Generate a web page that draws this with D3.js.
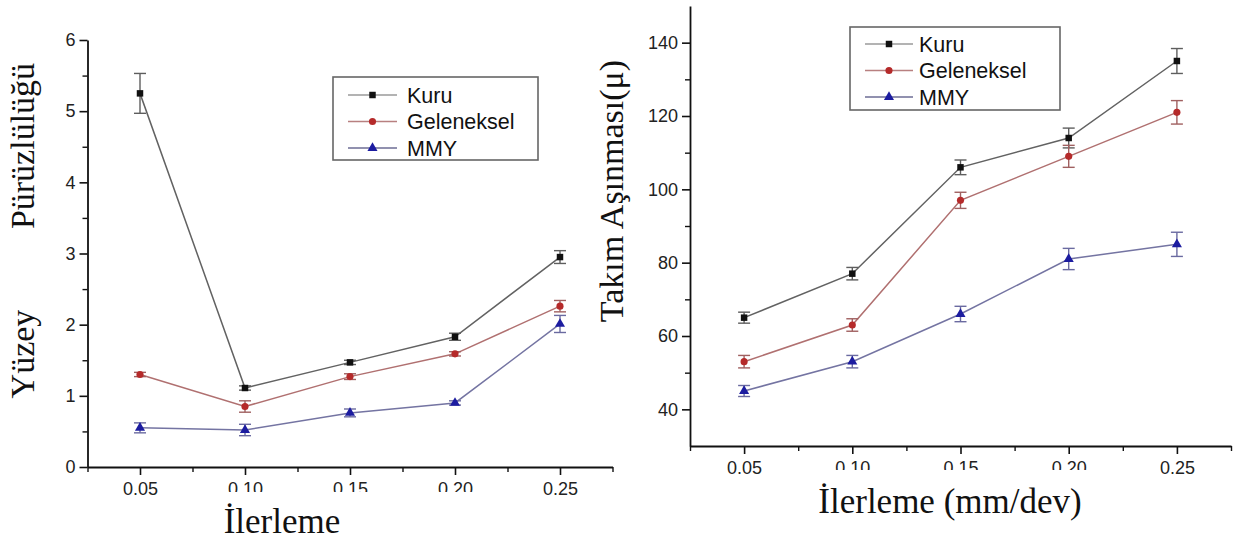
<!DOCTYPE html>
<html><head><meta charset="utf-8">
<script src="https://cdn.jsdelivr.net/npm/d3@7"></script>
<style>
html,body{margin:0;padding:0;background:#fff;}
svg{display:block;}
</style></head>
<body>
<svg id="c" width="1233" height="540"></svg>
<script>
// ---------- data ----------
const feed = [0.05, 0.10, 0.15, 0.20, 0.25];
const xTickLabels = ["0.05", "0.10", "0.15", "0.20", "0.25"];
const seriesNames = ["Kuru", "Geleneksel", "MMY"];

const roughKuru    = [5.25, 1.11, 1.47, 1.83, 2.95];
const roughKuruErr = [0.28, 0.03, 0.03, 0.05, 0.09];
const roughGel     = [1.30, 0.85, 1.27, 1.59, 2.26];
const roughGelErr  = [0.03, 0.08, 0.04, 0.03, 0.08];
const roughMMY     = [0.55, 0.52, 0.76, 0.90, 2.01];
const roughMMYErr  = [0.07, 0.08, 0.055, 0.03, 0.12];
const roughTicks   = [0, 1, 2, 3, 4, 5, 6];

const wearKuru    = [65, 77, 106, 114, 135];
const wearKuruErr = [1.5, 1.7, 2.0, 2.7, 3.4];
const wearGel     = [53, 63, 97, 109, 121];
const wearGelErr  = [1.7, 1.7, 2.2, 3.0, 3.2];
const wearMMY     = [45, 53, 66, 81, 85];
const wearMMYErr  = [1.5, 1.7, 2.1, 2.9, 3.3];
const wearTicks   = [40, 60, 80, 100, 120, 140];

// ---------- styles ----------
const styles = [
  {line:"#626262", mark:"#111111", err:"#5e5e5e", leg:"#9a9a9a", sym:d3.symbolSquare, size:42},
  {line:"#b07070", mark:"#b52a2a", err:"#a06060", leg:"#b88080", sym:d3.symbolCircle, size:40},
  {line:"#7474a2", mark:"#1c1ca0", err:"#6a6aa0", leg:"#6c6c94", sym:d3.symbolTriangle, size:44}
];

const svg = d3.select("#c");
const sansFont = "'Liberation Sans', Arial, sans-serif";
const serifFont = "'Liberation Serif', 'Times New Roman', serif";

function drawPanel(o) {
  const g = svg.append("g");
  const x = d3.scaleLinear().domain([0.025, 0.275]).range([o.x0, o.x1]);
  const y = d3.scaleLinear().domain(o.yDomain).range([o.yBottom, o.yTop]);

  // minor ticks
  const xMinor = d3.range(0.025, 0.2751, 0.05);
  g.append("g").attr("transform", `translate(0,${o.yBottom})`)
    .call(d3.axisBottom(x).tickValues(xMinor).tickSize(5).tickFormat("").tickSizeOuter(0))
    .call(s => s.select(".domain").remove())
    .selectAll("line").attr("stroke", "#111").attr("stroke-width", 1.4);
  g.append("g").attr("transform", `translate(${o.x0},0)`)
    .call(d3.axisLeft(y).tickValues(o.yMinor).tickSize(5).tickFormat("").tickSizeOuter(0))
    .call(s => s.select(".domain").remove())
    .selectAll("line").attr("stroke", "#111").attr("stroke-width", 1.4);

  // major axes
  const xa = g.append("g").attr("transform", `translate(0,${o.yBottom})`)
    .call(d3.axisBottom(x).tickValues(feed).tickSize(8).tickSizeOuter(0)
      .tickFormat((d, i) => xTickLabels[i]));
  xa.select(".domain").attr("stroke", "#111").attr("stroke-width", 1.8);
  xa.selectAll(".tick line").attr("stroke", "#111").attr("stroke-width", 1.6);
  xa.selectAll(".tick text").attr("font-family", sansFont).attr("font-size", 18)
    .attr("fill", "#222").attr("y", 15).attr("dy", "0.71em");

  const ya = g.append("g").attr("transform", `translate(${o.x0},0)`)
    .call(d3.axisLeft(y).tickValues(o.yTicks).tickSize(8).tickSizeOuter(0).tickFormat(d3.format("d")));
  ya.select(".domain").attr("stroke", "#111").attr("stroke-width", 1.8);
  ya.selectAll(".tick line").attr("stroke", "#111").attr("stroke-width", 1.6);
  ya.selectAll(".tick text").attr("font-family", sansFont).attr("font-size", 18)
    .attr("fill", "#222").attr("x", -12);

  // series
  o.series.forEach((vals, si) => {
    const st = styles[si];
    const errs = o.errors[si];
    const line = d3.line().x((d, i) => x(feed[i])).y(d => y(d));
    g.append("path").datum(vals).attr("d", line)
      .attr("fill", "none").attr("stroke", st.line).attr("stroke-width", 1.5);
    const eb = g.append("g");
    vals.forEach((v, i) => {
      const cx = x(feed[i]);
      const y1 = y(v + errs[i]), y2 = y(v - errs[i]);
      eb.append("line").attr("x1", cx).attr("x2", cx).attr("y1", y1).attr("y2", y2)
        .attr("stroke", st.err).attr("stroke-width", 1.4);
      [y1, y2].forEach(yy => eb.append("line").attr("x1", cx - 6).attr("x2", cx + 6)
        .attr("y1", yy).attr("y2", yy).attr("stroke", st.err).attr("stroke-width", 1.4));
    });
    g.append("g").selectAll("path").data(vals).join("path")
      .attr("transform", (d, i) => `translate(${x(feed[i])},${y(d)})`)
      .attr("d", d3.symbol().type(st.sym).size(st.size))
      .attr("fill", st.mark);
  });

  // legend
  const L = o.legend;
  g.append("rect").attr("x", L.x).attr("y", L.y).attr("width", L.w).attr("height", L.h)
    .attr("fill", "#fff").attr("stroke", "#666").attr("stroke-width", 1.6);
  seriesNames.forEach((name, si) => {
    const st = styles[si];
    const yy = L.y + L.row0 + si * L.rowStep;
    g.append("line").attr("x1", L.x + L.lx0).attr("x2", L.x + L.lx1).attr("y1", yy).attr("y2", yy)
      .attr("stroke", st.leg).attr("stroke-width", 1.5);
    g.append("path").attr("transform", `translate(${L.x + (L.lx0 + L.lx1) / 2},${yy})`)
      .attr("d", d3.symbol().type(st.sym).size(st.size)).attr("fill", st.mark);
    g.append("text").attr("x", L.x + L.tx).attr("y", yy).attr("dy", "0.36em")
      .attr("font-family", sansFont).attr("font-size", 21.5).attr("fill", "#111").text(name);
  });

  // white cover that hides the lower part of the middle tick labels
  g.append("rect").attr("x", o.cover[0]).attr("y", o.cover[1]).attr("width", o.cover[2]).attr("height", o.cover[3])
    .attr("fill", "#fff");
  return g;
}

drawPanel({
  x0: 87.5, x1: 612.5, yBottom: 467, yTop: 40, yDomain: [0, 6],
  yTicks: roughTicks, yMinor: [0.5, 1.5, 2.5, 3.5, 4.5, 5.5],
  series: [roughKuru, roughGel, roughMMY],
  errors: [roughKuruErr, roughGelErr, roughMMYErr],
  legend: {x: 333, y: 77, w: 205, h: 83, row0: 18, rowStep: 26.5, lx0: 15, lx1: 64, tx: 74},
  cover: [190, 492, 330, 48]
});

drawPanel({
  x0: 690, x1: 1231, yBottom: 446, yTop: 6, yDomain: [30, 150],
  yTicks: wearTicks, yMinor: [50, 70, 90, 110, 130],
  series: [wearKuru, wearGel, wearMMY],
  errors: [wearKuruErr, wearGelErr, wearMMYErr],
  legend: {x: 850, y: 27, w: 210, h: 83, row0: 17, rowStep: 26.5, lx0: 15, lx1: 63, tx: 69},
  cover: [795, 470, 335, 20]
});

// axis titles
svg.append("text").attr("x", 282).attr("y", 533).attr("text-anchor", "middle")
  .attr("font-family", serifFont).attr("font-size", 35).attr("fill", "#111").text("İlerleme");
svg.append("text").attr("x", 950).attr("y", 513).attr("text-anchor", "middle")
  .attr("font-family", serifFont).attr("font-size", 35).attr("fill", "#111").text("İlerleme (mm/dev)");
svg.append("text").attr("transform", "translate(34,146) rotate(-90)").attr("text-anchor", "middle")
  .attr("font-family", serifFont).attr("font-size", 34).attr("fill", "#111").text("Pürüzlülüğü");
svg.append("text").attr("transform", "translate(34,354) rotate(-90)").attr("text-anchor", "middle")
  .attr("font-family", serifFont).attr("font-size", 34).attr("fill", "#111").text("Yüzey");
svg.append("text").attr("transform", "translate(623,191) rotate(-90)").attr("text-anchor", "middle")
  .attr("font-family", serifFont).attr("font-size", 34).attr("fill", "#111").text("Takım Aşınması(μ)");
</script>
</body></html>
